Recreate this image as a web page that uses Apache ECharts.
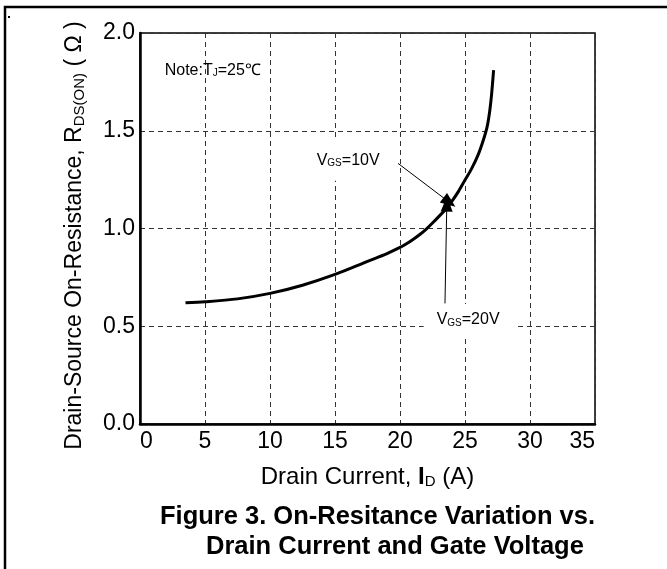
<!DOCTYPE html>
<html>
<head>
<meta charset="utf-8">
<script src="https://cdn.jsdelivr.net/npm/echarts@6/dist/echarts.min.js"></script>
<style>
  html, body { margin: 0; padding: 0; background: #fff; }
  #chart { width: 667px; height: 569px; }
</style>
</head>
<body>
<div id="chart"></div>
<script>
// drain current (A) vs on-resistance (ohm)
var currentA = [3.5, 5, 7.5, 10, 12.5, 15, 17.5, 19, 20, 20.5, 21, 21.5, 22, 22.5, 23, 23.5, 24, 24.5, 25, 25.5, 26, 26.4, 26.7, 26.9, 27.05, 27.2];
var resistance = [0.62, 0.625, 0.64, 0.668, 0.71, 0.765, 0.832, 0.872, 0.903, 0.922, 0.944, 0.968, 0.996, 1.028, 1.062, 1.097, 1.14, 1.19, 1.248, 1.305, 1.375, 1.45, 1.52, 1.6, 1.69, 1.81];

var xTicks = [0, 5, 10, 15, 20, 25, 30, 35];
var yTicks = [0.0, 0.5, 1.0, 1.5, 2.0];

// annotation arrows: [from, to] in data units
var arrow10V = [[19.85, 1.333], [23.8, 1.134]];
var arrow20V = [[23.46, 0.617], [23.6, 1.125]];
var noteAt = [1.9, 1.81];
var label10VAt = [13.59, 1.347];
var label20VAt = [21.82, 0.532];

var chart = echarts.init(document.getElementById('chart'));

var font = 'Liberation Sans';
var sub = { fontFamily: font, fontSize: 10, color: '#000', verticalAlign: 'bottom', padding: [6, 0, 0, 0] };

var option = {
  backgroundColor: '#fff',
  animation: false,
  grid: {
    left: 140, top: 33, right: 72, bottom: 145,
    show: true, borderColor: '#000', borderWidth: 1.5
  },
  xAxis: {
    type: 'value',
    min: xTicks[0], max: xTicks[xTicks.length - 1], interval: 5,
    name: 'Drain Current, {b|I}{s|D} (A)',
    nameLocation: 'middle',
    nameGap: 41,
    nameTextStyle: {
      fontFamily: font, fontSize: 24, color: '#000',
      rich: {
        b: { fontFamily: font, fontSize: 24, fontWeight: 'bold', color: '#000' },
        s: { fontFamily: font, fontSize: 15, color: '#000', verticalAlign: 'bottom', padding: [9, 0, 0, 0] }
      }
    },
    axisLine: { lineStyle: { color: '#000', width: 2.5 } },
    axisTick: { show: false },
    axisLabel: {
      fontFamily: font, fontSize: 23, color: '#000', margin: 6,
      alignMinLabel: 'left', alignMaxLabel: 'right'
    },
    splitLine: { lineStyle: { color: '#333', type: [5, 4], width: 1 } }
  },
  yAxis: {
    type: 'value',
    min: yTicks[0], max: yTicks[yTicks.length - 1], interval: 0.5,
    name: 'Drain-Source On-Resistance, R{s|DS(ON)} ( Ω )',
    nameLocation: 'middle',
    nameGap: 53,
    nameTextStyle: {
      fontFamily: font, fontSize: 23, color: '#000',
      padding: [0, 14, 0, 0],
      rich: {
        s: { fontFamily: font, fontSize: 15, color: '#000', verticalAlign: 'bottom', padding: [9, 0, 0, 0] }
      }
    },
    axisLine: { lineStyle: { color: '#000', width: 2.5 } },
    axisTick: { show: false },
    axisLabel: {
      fontFamily: font, fontSize: 23, color: '#000', margin: 5,
      formatter: function (v) { return v.toFixed(1); }
    },
    splitLine: { lineStyle: { color: '#333', type: [5, 4], width: 1 } }
  },
  series: [{
    type: 'line',
    data: currentA.map(function (a, i) { return [a, resistance[i]]; }),
    smooth: 0.3,
    showSymbol: false,
    lineStyle: { color: '#000', width: 3 },
    markLine: {
      silent: true,
      symbol: ['none', 'triangle'],
      symbolSize: [12, 15],
      lineStyle: { color: '#000', width: 1, type: 'solid' },
      label: { show: false },
      data: [
        [{ coord: arrow10V[0] }, { coord: arrow10V[1] }],
        [{ coord: arrow20V[0] }, { coord: arrow20V[1] }]
      ]
    },
    markPoint: {
      silent: true,
      symbol: 'circle',
      symbolSize: 0,
      itemStyle: { color: 'transparent' },
      label: { show: true, position: 'right', distance: 0, color: '#000', fontFamily: font },
      data: [
        {
          coord: noteAt,
          label: {
            formatter: 'Note:T{s|J}=25℃',
            fontSize: 16,
            rich: { s: sub }
          }
        },
        {
          coord: label10VAt,
          label: {
            formatter: 'V{s|GS}=10V',
            fontSize: 16,
            backgroundColor: '#fff',
            padding: [12, 4, 12, 0],
            rich: { s: sub }
          }
        },
        {
          coord: label20VAt,
          label: {
            formatter: 'V{s|GS}=20V',
            fontSize: 16,
            backgroundColor: '#fff',
            padding: [8, 17, 8, 13],
            rich: { s: sub }
          }
        }
      ]
    }
  }],
  graphic: [
    {
      type: 'rect', silent: true,
      shape: { x: 5, y: 7, width: 700, height: 600 },
      style: { fill: 'none', stroke: '#000', lineWidth: 2.5 }
    },
    {
      type: 'rect', silent: true,
      shape: { x: 8, y: 16, width: 2, height: 2 },
      style: { fill: '#000' }
    },
    {
      type: 'text', x: 160, y: 517, silent: true,
      style: { text: 'Figure 3. On-Resitance Variation vs.', fill: '#000',
        verticalAlign: 'middle', font: 'bold 25.5px "Liberation Sans"' }
    },
    {
      type: 'text', x: 206, y: 547, silent: true,
      style: { text: 'Drain Current and Gate Voltage', fill: '#000',
        verticalAlign: 'middle', font: 'bold 25.5px "Liberation Sans"' }
    }
  ]
};

chart.setOption(option);
</script>
</body>
</html>
